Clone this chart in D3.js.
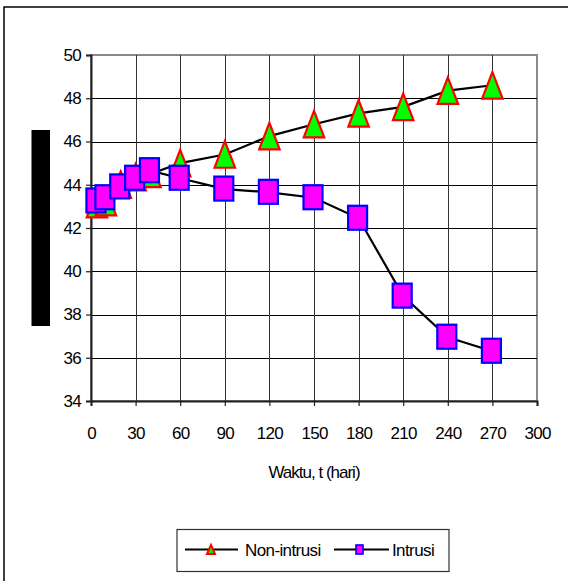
<!DOCTYPE html>
<html>
<head>
<meta charset="utf-8">
<script src="https://cdn.jsdelivr.net/npm/d3@7"></script>
<style>
  html, body { margin: 0; padding: 0; background: #fff; }
  svg { display: block; font-family: "Liberation Sans", Arial, sans-serif; }
</style>
</head>
<body>
<svg id="chart" width="568" height="581"></svg>
<script>
// Sampling days (t, hari)
const days = [4, 10, 20, 30, 40, 60, 90, 120, 150, 180, 210, 240, 270];
// Series values
const nonIntrusi = [43.1, 43.2, 44.0, 44.35, 44.5, 45.0, 45.4, 46.25, 46.8, 47.3, 47.6, 48.35, 48.6];
const intrusi    = [43.25, 43.4, 43.9, 44.3, 44.65, 44.3, 43.8, 43.65, 43.4, 42.45, 38.85, 36.95, 36.3];
// Axis ticks
const xTicks = [0, 30, 60, 90, 120, 150, 180, 210, 240, 270, 300];
const yTicks = [34, 36, 38, 40, 42, 44, 46, 48, 50];
const xTitle = "Waktu, t (hari)";
const seriesNames = ["Non-intrusi", "Intrusi"];

const svg = d3.select("#chart");
const plot = { left: 91, right: 537, top: 55, bottom: 401 };
const FS = 17;

const x = d3.scaleLinear().domain([0, 300]).range([plot.left, plot.right]);
const y = d3.scaleLinear().domain([34, 50]).range([plot.bottom, plot.top]);

// Outer frame
svg.append("rect")
  .attr("x", 4).attr("y", 7).attr("width", 700).attr("height", 700)
  .attr("fill", "none").attr("stroke", "#000").attr("stroke-width", 1.5);

// Bar at the y-axis title position
svg.append("rect")
  .attr("x", 31.5).attr("y", 130).attr("width", 18.5).attr("height", 196)
  .attr("fill", "#000");

// Plot area border
svg.append("rect")
  .attr("x", plot.left).attr("y", plot.top)
  .attr("width", plot.right - plot.left).attr("height", plot.bottom - plot.top)
  .attr("fill", "#fff").attr("stroke", "#8a8a8a").attr("stroke-width", 2);

// Gridlines
const grid = svg.append("g").attr("stroke", "#000").attr("stroke-width", 1).attr("shape-rendering", "crispEdges");
grid.selectAll("line.h").data(yTicks.slice(1, -1)).join("line")
  .attr("x1", plot.left).attr("x2", plot.right)
  .attr("y1", d => Math.round(y(d)) + 0.5).attr("y2", d => Math.round(y(d)) + 0.5);
grid.selectAll("line.v").data(xTicks.slice(1, -1)).join("line")
  .attr("y1", plot.top).attr("y2", plot.bottom)
  .attr("x1", d => Math.round(x(d)) + 0.5).attr("x2", d => Math.round(x(d)) + 0.5)
  .attr("stroke", "#333");

// Axes
const xAxis = d3.axisBottom(x).tickValues(xTicks).tickSize(5).tickPadding(21).tickFormat(d3.format("d"));
const yAxis = d3.axisLeft(y).tickValues(yTicks).tickSize(5).tickPadding(5).tickFormat(d3.format("d"));

const gx = svg.append("g").attr("transform", `translate(0,${plot.bottom})`).call(xAxis);
const gy = svg.append("g").attr("transform", `translate(${plot.left},0)`).call(yAxis);
[gx, gy].forEach(g => {
  g.select(".domain").attr("stroke", "#222").attr("stroke-width", 2);
  g.selectAll(".tick line").attr("stroke", "#222").attr("stroke-width", 1.2);
  g.selectAll(".tick text").attr("fill", "#000").attr("font-size", FS)
    .attr("font-family", "'Liberation Sans', Arial, sans-serif").attr("letter-spacing", -0.7);
});

// X-axis title
svg.append("text")
  .attr("x", (plot.left + plot.right) / 2).attr("y", 478)
  .attr("text-anchor", "middle").attr("font-size", FS).attr("letter-spacing", -1.0)
  .text(xTitle);

// Marker shapes
const triPath = (w, h) => `M0,${-h / 2}L${w / 2},${h / 2}L${-w / 2},${h / 2}Z`;

const line = d3.line().x(d => x(d[0])).y(d => y(d[1]));
const ptsN = days.map((d, i) => [d, nonIntrusi[i]]);
const ptsI = days.map((d, i) => [d, intrusi[i]]);

// Non-intrusi series
svg.append("path").datum(ptsN).attr("d", line)
  .attr("fill", "none").attr("stroke", "#000").attr("stroke-width", 2.2);
svg.append("g").selectAll("path").data(ptsN).join("path")
  .attr("transform", d => `translate(${x(d[0])},${y(d[1])})`)
  .attr("d", triPath(20.5, 26.5))
  .attr("fill", "#00ff00").attr("stroke", "#ff0000").attr("stroke-width", 2.2)
  .attr("stroke-linejoin", "miter");

// Intrusi series
svg.append("path").datum(ptsI).attr("d", line)
  .attr("fill", "none").attr("stroke", "#000").attr("stroke-width", 2.2);
svg.append("g").selectAll("rect").data(ptsI).join("rect")
  .attr("x", d => x(d[0]) - 10.5).attr("y", d => y(d[1]) - 12.5)
  .attr("width", 19).attr("height", 24)
  .attr("fill", "#ff00ff").attr("stroke", "#0000ff").attr("stroke-width", 2.2);

// Legend
const lg = svg.append("g");
lg.append("rect").attr("x", 177).attr("y", 529.5).attr("width", 272).attr("height", 42)
  .attr("fill", "#fff").attr("stroke", "#333").attr("stroke-width", 1.2);
const ly = 549.5;
lg.append("line").attr("x1", 185).attr("x2", 238).attr("y1", ly).attr("y2", ly)
  .attr("stroke", "#000").attr("stroke-width", 2);
lg.append("path").attr("transform", `translate(211,${ly})`).attr("d", triPath(8, 9))
  .attr("fill", "#00ff00").attr("stroke", "#ff0000").attr("stroke-width", 2);
lg.append("text").attr("x", 245).attr("y", ly + 6.5).attr("font-size", FS).attr("letter-spacing", -0.6)
  .text(seriesNames[0]);
lg.append("line").attr("x1", 334).attr("x2", 389).attr("y1", ly).attr("y2", ly)
  .attr("stroke", "#000").attr("stroke-width", 2);
lg.append("rect").attr("x", 356).attr("y", ly - 4.5).attr("width", 7).attr("height", 9)
  .attr("fill", "#ff00ff").attr("stroke", "#0000ff").attr("stroke-width", 1.6);
lg.append("text").attr("x", 392).attr("y", ly + 6.5).attr("font-size", FS).attr("letter-spacing", -0.6)
  .text(seriesNames[1]);
</script>
</body>
</html>
